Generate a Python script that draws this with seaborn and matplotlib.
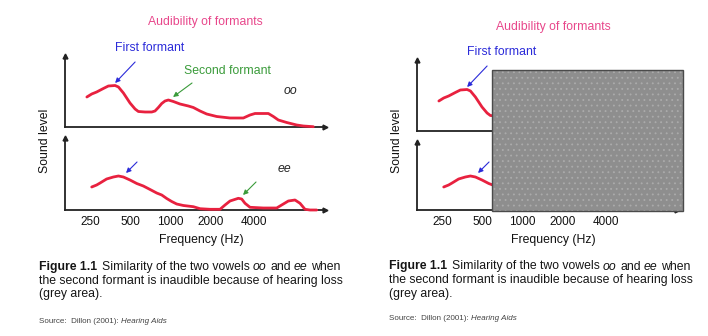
import matplotlib
matplotlib.use("Agg")
import matplotlib.pyplot as plt
import seaborn as sns

# ---------------- data ----------------
OO_FREQ = [206, 224, 244, 274, 299, 336, 356, 388, 435, 475, 503, 565, 634, 671,
           711, 754, 798, 846, 922, 1035, 1196, 1304, 1464, 1643, 1954, 2462,
           3102, 3482, 3797, 4784, 5217, 5688, 6575, 7818, 8774, 10432]
OO_LEVEL = [30, 33, 35, 38.5, 41, 41.5, 40, 34, 24, 18, 15.5, 15, 15, 16,
            19.5, 23.5, 26, 27, 25.5, 23, 21, 19.5, 16, 13, 10.5, 9,
            9, 12, 13.5, 13.5, 10.5, 7, 4.5, 2, 1, 0.3]

EE_FREQ = [224, 244, 259, 290, 326, 356, 388, 435, 489, 548, 616, 691, 754, 822,
           896, 977, 1097, 1304, 1464, 1741, 2071, 2258, 2462, 2844, 3014, 3193,
           3482, 4387, 5528, 6204, 6765, 7594, 8282, 9031, 9849, 11055]
EE_LEVEL = [23, 25, 27, 31, 33, 34, 33, 30, 26.5, 24, 20.5, 17, 15, 11.5,
            8.5, 6, 4.5, 3.3, 1.3, 0.7, 0.7, 5, 9, 11.7, 11, 6.7,
            2.7, 2, 2, 6, 9, 10, 6.7, 0.7, 0, 0]

TICK_FREQS = [250, 500, 1000, 2000, 4000]
TICK_LABELS = ["250", "500", "1000", "2000", "4000"]

HEARING_LOSS = (520, 14200)   # grey area (Hz)

TITLE = "Audibility of formants"
FIRST = "First formant"
SECOND = "Second formant"
XLABEL = "Frequency (Hz)"
YLABEL = "Sound level"
CAP_FIG = "Figure 1.1"
CAP_L1 = ["Similarity of the two vowels", "oo", "and", "ee", "when"]
CAP_L2 = "the second formant is inaudible because of hearing loss"
CAP_L3 = "(grey area)."
SRC = "Source:  Dillon (2001): "
SRC_IT = "Hearing Aids"

# annotation anchor points (freq, level)
OO_F1 = (336, 44)
OO_F2 = (917, 30)
OO_TAG = (6180, 36)
EE_F1 = (406, 37)
EE_F2 = (3084, 15)
EE_TAG = (5657, 41)

# ---------------- style ----------------
RED = "#e8213f"
BLUE = "#2b2bd9"
GREEN = "#3a9b3a"
PINK = "#e8478b"
AXC = "#222222"

sns.set_style("white")
plt.rcParams["font.family"] = ["Liberation Sans", "DejaVu Sans"]
plt.rcParams["hatch.linewidth"] = 0.6

W, H = 708, 336
fig = plt.figure(figsize=(W / 100, H / 100), dpi=100)
XLIM = (141, 12770)
FS = 8.8


def add_px_axes(x0, y0, x1, y1):
    return fig.add_axes([x0 / W, 1 - y1 / H, (x1 - x0) / W, (y1 - y0) / H])


def style_axes(ax, height):
    ax.set_xscale("log", base=2)
    ax.set_xlim(*XLIM)
    ax.set_ylim(0, height)
    ax.set_xticks(TICK_FREQS)
    ax.set_xticklabels([])
    ax.set_xticks([], minor=True)
    ax.set_yticks([])
    ax.tick_params(axis="x", direction="in", length=4, width=0.8, color="#555555")
    for s in ["top", "right"]:
        ax.spines[s].set_visible(False)
    for s in ["left", "bottom"]:
        ax.spines[s].set_color(AXC)
        ax.spines[s].set_linewidth(1.3)
    ax.plot([1], [0], marker=">", transform=ax.transAxes, clip_on=False,
            color=AXC, ms=3.5, zorder=4)
    ax.plot([0], [1], marker="^", transform=ax.transAxes, clip_on=False,
            color=AXC, ms=3.5, zorder=4)
    ax.patch.set_alpha(0)


def curve(ax, f, l):
    sns.lineplot(x=f, y=l, ax=ax, color=RED, linewidth=2.0, sort=False,
                 estimator=None, clip_on=False, zorder=3)
    ax.set_xlabel("")
    ax.set_ylabel("")


def arrow(ax, tip, off, color):
    ax.annotate("", xy=tip, xytext=off, textcoords="offset pixels",
                arrowprops=dict(arrowstyle="-|>", color=color, lw=0.8,
                                mutation_scale=7, shrinkA=0, shrinkB=0))


def label(ax, tip, off, text, color):
    ax.annotate(text, xy=tip, xytext=off, textcoords="offset pixels",
                color=color, fontsize=FS, ha="left", va="center")


def draw_panel(dx, top_box, bot_box, second, title_xy):
    ax1 = add_px_axes(dx + top_box[0], top_box[1], dx + top_box[2], top_box[3])
    ax2 = add_px_axes(dx + bot_box[0], bot_box[1], dx + bot_box[2], bot_box[3])
    style_axes(ax1, top_box[3] - top_box[1])
    style_axes(ax2, bot_box[3] - bot_box[1])
    curve(ax1, OO_FREQ, OO_LEVEL)
    curve(ax2, EE_FREQ, EE_LEVEL)

    arrow(ax1, OO_F1, (20, 21), BLUE)
    label(ax1, OO_F1, (0, 35), FIRST, BLUE)
    arrow(ax2, EE_F1, (11, 11), BLUE)
    if second:
        arrow(ax1, OO_F2, (19, 14), GREEN)
        label(ax1, OO_F2, (11, 26), SECOND, GREEN)
        arrow(ax2, EE_F2, (13, 13), GREEN)
        ax1.text(*OO_TAG, "oo", style="italic", fontsize=FS, ha="left", va="center")
        ax2.text(*EE_TAG, "ee", style="italic", fontsize=FS, ha="left", va="center")

    # tick labels on lower axes
    offs = [-8, -8, -8, -7, -4]
    for f, t, o in zip(TICK_FREQS, TICK_LABELS, offs):
        ax2.annotate(t, xy=(f, 0), xycoords=("data", "axes fraction"),
                     xytext=(o, -12), textcoords="offset pixels",
                     ha="center", va="center", fontsize=8.5, color="#111111")
    fig.text((dx + 201) / W, 1 - 240 / H, XLABEL, fontsize=FS, ha="center",
             va="center", color="#111111")
    fig.text((dx + 45) / W, 1 - 141 / H, YLABEL, fontsize=FS, ha="center",
             va="center", rotation=90, color="#111111")
    fig.text(title_xy[0] / W, 1 - title_xy[1] / H, TITLE, fontsize=FS,
             ha="center", va="center", color=PINK)
    return ax1, ax2


def rich(x, y, segs, size, color):
    r = fig.canvas.get_renderer()
    for text, weight, style, gap in segs:
        t = fig.text(x / W, 1 - y / H, text, fontsize=size, weight=weight,
                     style=style, color=color, ha="left", va="baseline")
        x += t.get_window_extent(renderer=r).width + gap


def caption(x, ys, ysrc):
    sp = 3.4
    rich(x, ys[0], [(CAP_FIG, "bold", "normal", 4.5),
                    (CAP_L1[0], "normal", "normal", sp),
                    (CAP_L1[1], "normal", "italic", sp),
                    (CAP_L1[2], "normal", "normal", sp),
                    (CAP_L1[3], "normal", "italic", sp),
                    (CAP_L1[4], "normal", "normal", 0)], FS, "#151515")
    rich(x, ys[1], [(CAP_L2, "normal", "normal", 0)], FS, "#151515")
    rich(x, ys[2], [(CAP_L3, "normal", "normal", 0)], FS, "#151515")
    rich(x, ysrc, [(SRC, "normal", "normal", 0),
                   (SRC_IT, "normal", "italic", 0)], 5.8, "#444444")


# left panel
draw_panel(0, (65, 56, 325, 127), (65, 138, 325, 210), True, (205, 22))
# right panel
draw_panel(352, (65, 60, 325, 131), (65, 142, 325, 210), False, (553, 27))

# hearing-loss grey area on the right panel
axg = add_px_axes(417, 70, 677, 211)
axg.set_xscale("log", base=2)
axg.set_xlim(*XLIM)
axg.set_ylim(0, 1)
axg.axis("off")
axg.axvspan(*HEARING_LOSS, facecolor="#8e8e8e", edgecolor="#ababab",
            hatch="...", lw=0, clip_on=False)
axg.axvspan(*HEARING_LOSS, fill=False, edgecolor="#4a4a4a", lw=1.0,
            clip_on=False)

caption(39, (270, 284, 297), 323)
caption(389, (269.5, 283, 296.5), 320)

fig.savefig("out.png", dpi=100)
